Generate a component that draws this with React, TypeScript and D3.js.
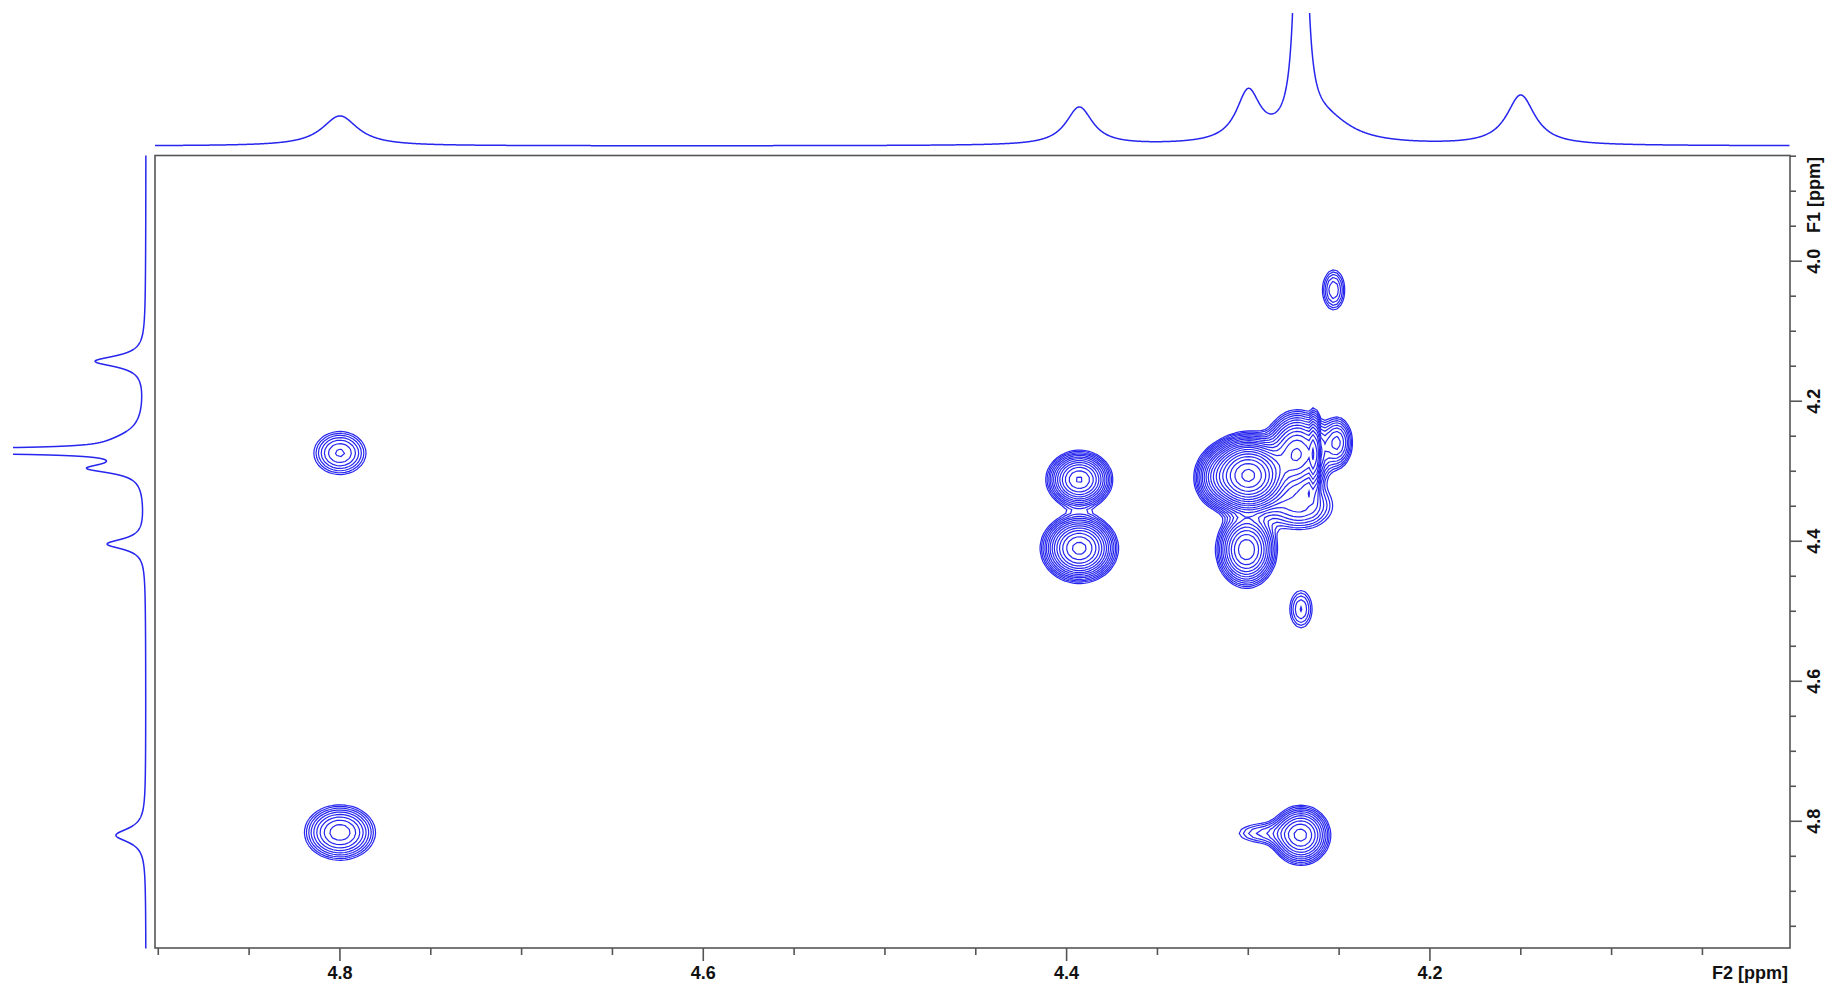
import React, { useMemo } from "react";
import * as d3 from "d3";

const WIDTH = 1833;
const HEIGHT = 989;
const BLUE = "#2626ee";
const FRAME = "#555555";

// 1D projection (same trace on top and left), Lorentzian lines
const projShiftF2 = [4.8, 4.393, 4.3, 4.271, 4.258, 4.15];
const projShiftF1 = [4.82, 4.404, 4.296, 4.271, 4.258, 4.143];
const projHeight = [30, 38, 50, 800, 24, 50];
const projHalfWidth = [0.012, 0.009, 0.008, 0.0019, 0.018, 0.0095];

// 2D cross / diagonal peaks
const crossF2 = [4.8, 4.8, 4.393, 4.393, 4.3, 4.273, 4.2635, 4.272, 4.301, 4.251, 4.253, 4.271, 4.271, 4.292, 4.318];
const crossF1 = [4.274, 4.816, 4.312, 4.41, 4.306, 4.275, 4.277, 4.35, 4.412, 4.259, 4.041, 4.497, 4.82, 4.817, 4.31];
const crossAmp = [4, 7, 15, 20, 60, 15, 8, 4, 14, 5, 3, 2.5, 10, 2.0, 5];
const crossWidthF2 = [0.0086, 0.0099, 0.0079, 0.0088, 0.0092, 0.008, 0.0015, 0.011, 0.0074, 0.0046, 0.0041, 0.0045, 0.0076, 0.011, 0.006];
const crossWidthF1 = [0.0184, 0.02, 0.018, 0.0205, 0.022, 0.027, 0.03, 0.02, 0.024, 0.02, 0.0193, 0.0196, 0.02, 0.011, 0.02];

const f2Labels = [4.8, 4.6, 4.4, 4.2];
const f1Labels = [4.0, 4.2, 4.4, 4.6, 4.8];
const levelBase = 1;
const levelFactor = 1.25;
const levelCount = 22;

const plot = { left: 155, right: 1790, top: 155.5, bottom: 948 };

const lorentz = (ppm: number, shifts: number[]) =>
  shifts.reduce((s, c, i) => {
    const g = projHalfWidth[i];
    const d = ppm - c;
    return s + (projHeight[i] * g * g) / (g * g + d * d);
  }, 0);

export default function App() {
  const x = d3.scaleLinear().domain([4.9018, 4.0018]).range([plot.left, plot.right]);
  const y = d3.scaleLinear().domain([3.849, 4.981]).range([plot.top, plot.bottom]);
  const inten = d3.scaleLinear().domain([0, 132]).range([146, 14]);

  const topPath = useMemo(() => {
    const xs = d3.range(plot.left, plot.right, 0.5);
    return d3
      .line<number>()
      .x((px) => px)
      .y((px) => inten(lorentz(x.invert(px), projShiftF2)))(xs);
  }, []);

  const leftPath = useMemo(() => {
    const ys = d3.range(plot.top, plot.bottom + 1, 0.5);
    return d3
      .line<number>()
      .x((py) => inten(lorentz(y.invert(py), projShiftF1)))
      .y((py) => py)(ys);
  }, []);

  const contourPaths = useMemo(() => {
    const step = 4;
    const nx = Math.ceil((plot.right - plot.left) / step);
    const ny = Math.ceil((plot.bottom - plot.top) / step);
    const values = new Array(nx * ny).fill(0);
    for (let j = 0; j < ny; j++) {
      const p1 = y.invert(plot.top + (j + 0.5) * step);
      for (let i = 0; i < nx; i++) {
        const p2 = x.invert(plot.left + (i + 0.5) * step);
        let v = 0;
        for (let k = 0; k < crossF2.length; k++) {
          const a = (p2 - crossF2[k]) / crossWidthF2[k];
          const b = (p1 - crossF1[k]) / crossWidthF1[k];
          v += crossAmp[k] * Math.exp(-0.5 * (a * a + b * b));
        }
        values[i + j * nx] = v;
      }
    }
    const levels = d3.range(levelCount).map((k) => levelBase * Math.pow(levelFactor, k));
    const contours = d3.contours().size([nx, ny]).thresholds(levels)(values);
    const path = d3.geoPath(d3.geoIdentity().scale(step).translate([plot.left, plot.top]) as any);
    return contours.map((c) => path(c as any) || "");
  }, []);

  const xTicks = x.ticks(18);
  const yTicks = y.ticks(22);
  const fmt = d3.format(".1f");
  const isMajor = (v: number) => Math.abs(v * 5 - Math.round(v * 5)) < 1e-6;

  return (
    <svg
      width={WIDTH}
      height={HEIGHT}
      style={{ position: "absolute", left: 0, top: 0, background: "#fff" }}
      fontFamily="'Liberation Sans', Arial, sans-serif"
    >
      <defs>
        <clipPath id="clipTop">
          <rect x={0} y={13} width={WIDTH} height={200} />
        </clipPath>
        <clipPath id="clipLeft">
          <rect x={13} y={0} width={200} height={HEIGHT} />
        </clipPath>
      </defs>

      <path d={topPath || ""} fill="none" stroke={BLUE} strokeWidth={1.5} clipPath="url(#clipTop)" />
      <path d={leftPath || ""} fill="none" stroke={BLUE} strokeWidth={1.5} clipPath="url(#clipLeft)" />

      <g fill="none" stroke={BLUE} strokeWidth={1.2}>
        {contourPaths.map((d, i) => (
          <path key={i} d={d} />
        ))}
      </g>

      <rect
        x={plot.left}
        y={plot.top}
        width={plot.right - plot.left}
        height={plot.bottom - plot.top}
        fill="none"
        stroke={FRAME}
        strokeWidth={1.6}
      />

      <g stroke={FRAME} strokeWidth={1.6}>
        {xTicks.map((t) => (
          <line key={"x" + t} x1={x(t)} x2={x(t)} y1={plot.bottom} y2={plot.bottom + (isMajor(t) ? 13 : 7)} />
        ))}
        {yTicks.map((t) => (
          <line key={"y" + t} x1={plot.right} x2={plot.right + (isMajor(t) ? 12 : 6)} y1={y(t)} y2={y(t)} />
        ))}
      </g>

      <g fontSize={18} fontWeight="bold" fill="#111">
        {f2Labels.map((t) => (
          <text key={"lx" + t} x={x(t)} y={979} textAnchor="middle">
            {fmt(t)}
          </text>
        ))}
        <text x={1750} y={979} textAnchor="middle">
          F2 [ppm]
        </text>
        {f1Labels.map((t) => (
          <text
            key={"ly" + t}
            transform={`translate(1814,${y(t)}) rotate(-90)`}
            textAnchor="middle"
            dominantBaseline="central"
          >
            {fmt(t)}
          </text>
        ))}
        <text transform="translate(1814,195) rotate(-90)" textAnchor="middle" dominantBaseline="central">
          F1 [ppm]
        </text>
      </g>
    </svg>
  );
}
